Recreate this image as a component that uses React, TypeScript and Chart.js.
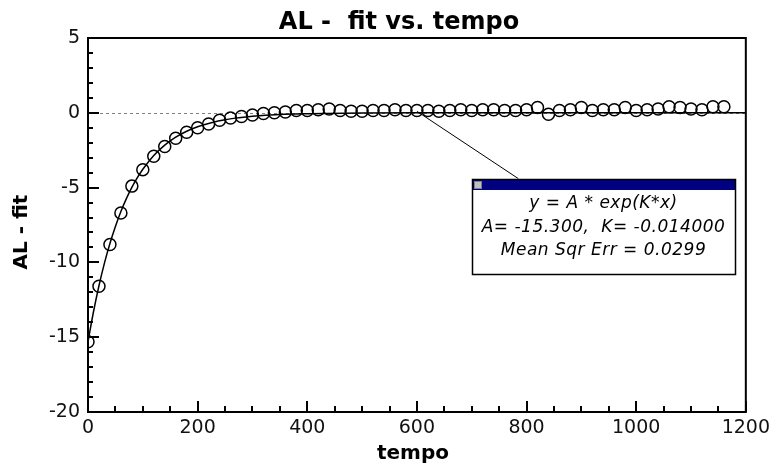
import React, { useEffect, useRef } from "react";
import { Chart, registerables } from "chart.js";

Chart.register(...registerables);

// ---- data ----
const pointX = [
  0, 20, 40, 60, 80, 100, 120, 140, 160, 180, 200, 220, 240, 260, 280, 300,
  320, 340, 360, 380, 400, 420, 440, 460, 480, 500, 520, 540, 560, 580, 600,
  620, 640, 660, 680, 700, 720, 740, 760, 780, 800, 820, 840, 860, 880, 900,
  920, 940, 960, 980, 1000, 1020, 1040, 1060, 1080, 1100, 1120, 1140, 1160,
];
const pointY = [
  -15.3, -11.6, -8.8, -6.7, -4.9, -3.8, -2.9, -2.25, -1.7, -1.3, -1.0, -0.75,
  -0.5, -0.35, -0.25, -0.15, -0.05, 0.0, 0.05, 0.15, 0.15, 0.2, 0.25, 0.15, 0.1,
  0.1, 0.15, 0.15, 0.2, 0.15, 0.15, 0.15, 0.1, 0.15, 0.2, 0.15, 0.2, 0.2, 0.15,
  0.15, 0.2, 0.35, -0.1, 0.15, 0.2, 0.35, 0.15, 0.2, 0.2, 0.35, 0.15, 0.2, 0.25,
  0.4, 0.35, 0.25, 0.2, 0.4, 0.4,
];
const fitX = [
  0, 10, 20, 30, 40, 50, 60, 70, 80, 90, 100, 120, 140, 160, 180, 200, 225,
  250, 275, 300, 350, 400, 500, 600, 800, 1000, 1200,
];
const fitY = [
  -15.3, -13.3, -11.56, -10.05, -8.74, -7.6, -6.6, -5.74, -4.99, -4.34, -3.77,
  -2.85, -2.16, -1.63, -1.23, -0.93, -0.66, -0.46, -0.33, -0.23, -0.11, -0.06,
  -0.01, 0, 0, 0, 0,
];
const xRange = [0, 1200];
const yRange = [-20, 5];
const xMajor = 200;
const xMinor = 50;
const yMajor = 5;
const yMinor = 1;

const titleText = "AL -  fit vs. tempo";
const xLabel = "tempo";
const yLabel = "AL - fit";
const boxLines = ["y = A * exp(K*x)", "A= -15.300,  K= -0.014000", "Mean Sqr Err = 0.0299"];
// annotation anchors in data units
const leaderFrom = { x: 600, y: 0.1 };
const leaderTo = { x: 785, y: -4.4 };
const boxCorners = { x0: 700, x1: 1180, y0: -4.4, y1: -10.8 };

const FONT = '"DejaVu Sans", Verdana, sans-serif';

const decor = {
  id: "decor",
  beforeDatasetsDraw(chart: any) {
    const { ctx, chartArea: a, scales } = chart;
    const y0 = Math.round(scales.y.getPixelForValue(0)) + 0.5;
    ctx.save();
    ctx.strokeStyle = "#808080";
    ctx.lineWidth = 1;
    ctx.setLineDash([3, 3]);
    ctx.beginPath();
    ctx.moveTo(a.left, y0);
    ctx.lineTo(a.right, y0);
    ctx.stroke();
    ctx.restore();
  },
  afterDraw(chart: any) {
    const { ctx, chartArea: a, scales } = chart;
    const xs = scales.x;
    const ys = scales.y;
    ctx.save();
    // frame
    ctx.strokeStyle = "#000";
    ctx.lineWidth = 2;
    ctx.beginPath();
    ctx.moveTo(a.left, a.top);
    ctx.lineTo(a.right, a.top);
    ctx.lineTo(a.right, a.bottom);
    ctx.lineTo(a.left, a.bottom);
    ctx.closePath();
    ctx.stroke();
    // y ticks (inward)
    for (let v = yRange[0]; v <= yRange[1]; v += yMinor) {
      const len = v % yMajor === 0 ? 11 : 5;
      const py = Math.round(ys.getPixelForValue(v));
      ctx.beginPath();
      ctx.moveTo(a.left, py);
      ctx.lineTo(a.left + len, py);
      ctx.stroke();
    }
    // x ticks (inward)
    for (let v = xRange[0]; v <= xRange[1]; v += xMinor) {
      const len = v % xMajor === 0 ? 11 : 6;
      const px = Math.round(xs.getPixelForValue(v));
      ctx.beginPath();
      ctx.moveTo(px, a.bottom);
      ctx.lineTo(px, a.bottom - len);
      ctx.stroke();
    }
    // title & axis labels
    ctx.fillStyle = "#000";
    ctx.textAlign = "center";
    ctx.textBaseline = "alphabetic";
    ctx.font = `bold 24px ${FONT}`;
    ctx.fillText(titleText, 399, 29);
    ctx.font = `bold 20px ${FONT}`;
    ctx.fillText(xLabel, 413, 459);
    ctx.save();
    ctx.translate(22, 232);
    ctx.rotate(-Math.PI / 2);
    ctx.textBaseline = "middle";
    ctx.fillText(yLabel, 0, 0);
    ctx.restore();

    // annotation leader line
    ctx.lineWidth = 1;
    ctx.beginPath();
    ctx.moveTo(xs.getPixelForValue(leaderFrom.x), ys.getPixelForValue(leaderFrom.y));
    ctx.lineTo(xs.getPixelForValue(leaderTo.x), ys.getPixelForValue(leaderTo.y));
    ctx.stroke();

    // annotation box
    const bx0 = Math.round(xs.getPixelForValue(boxCorners.x0));
    const bx1 = Math.round(xs.getPixelForValue(boxCorners.x1));
    const by0 = Math.round(ys.getPixelForValue(boxCorners.y0));
    const by1 = Math.round(ys.getPixelForValue(boxCorners.y1));
    ctx.fillStyle = "#fff";
    ctx.fillRect(bx0, by0, bx1 - bx0, by1 - by0);
    ctx.fillStyle = "#000080";
    ctx.fillRect(bx0, by0, bx1 - bx0, 11);
    ctx.fillStyle = "#c0c0c0";
    ctx.fillRect(bx0 + 2, by0 + 2, 8, 8);
    ctx.strokeStyle = "#808080";
    ctx.strokeRect(bx0 + 2.5, by0 + 2.5, 7, 7);
    ctx.strokeStyle = "#000";
    ctx.lineWidth = 1.5;
    ctx.strokeRect(bx0 + 0.5, by0 + 0.5, bx1 - bx0, by1 - by0);
    ctx.fillStyle = "#000";
    ctx.font = `italic 17px ${FONT}`;
    (ctx as any).letterSpacing = "0.5px";
    ctx.textAlign = "center";
    ctx.textBaseline = "middle";
    const cx = (bx0 + bx1) / 2;
    boxLines.forEach((t, i) => ctx.fillText(t, cx, by0 + 25 + i * 23.5));
    ctx.restore();
  },
};

export default function App() {
  const ref = useRef<HTMLCanvasElement>(null);
  useEffect(() => {
    document.body.style.margin = "0";
    document.body.style.background = "#fff";
    const tickFont = { family: FONT, size: 19 };
    const chart = new Chart(ref.current as HTMLCanvasElement, {
      type: "scatter",
      data: {
        datasets: [
          {
            type: "line",
            data: fitX.map((x, i) => ({ x, y: fitY[i] })),
            borderColor: "#000",
            borderWidth: 1.5,
            pointRadius: 0,
            cubicInterpolationMode: "monotone",
            fill: false,
          } as any,
          {
            data: pointX.map((x, i) => ({ x, y: pointY[i] })),
            showLine: false,
            pointRadius: 6,
            pointBorderWidth: 1.5,
            pointBorderColor: "#000",
            pointBackgroundColor: "rgba(0,0,0,0)",
          } as any,
        ],
      },
      options: {
        animation: false,
        responsive: false,
        devicePixelRatio: 1,
        layout: { padding: { top: 38, right: 28, left: 0, bottom: 0 } },
        plugins: {
          legend: { display: false },
          tooltip: { enabled: false },
          title: { display: false },
        },
        scales: {
          x: {
            type: "linear",
            min: xRange[0],
            max: xRange[1],
            ticks: {
              stepSize: xMajor,
              font: tickFont,
              color: "#111",
              padding: 5,
              maxRotation: 0,
              callback: (v: any) => String(v),
            },
            grid: { display: false, drawTicks: false },
            border: { display: false },
            afterFit: (s: any) => {
              s.height = 53;
            },
          },
          y: {
            type: "linear",
            min: yRange[0],
            max: yRange[1],
            ticks: {
              stepSize: yMajor,
              font: tickFont,
              color: "#111",
              padding: 8,
              callback: (v: any) => String(v),
            },
            grid: { display: false, drawTicks: false },
            border: { display: false },
            afterFit: (s: any) => {
              s.width = 88;
            },
          },
        },
      } as any,
      plugins: [decor],
    });
    return () => chart.destroy();
  }, []);
  return (
    <div style={{ width: 775, height: 465 }}>
      <canvas ref={ref} width={775} height={465} />
    </div>
  );
}
